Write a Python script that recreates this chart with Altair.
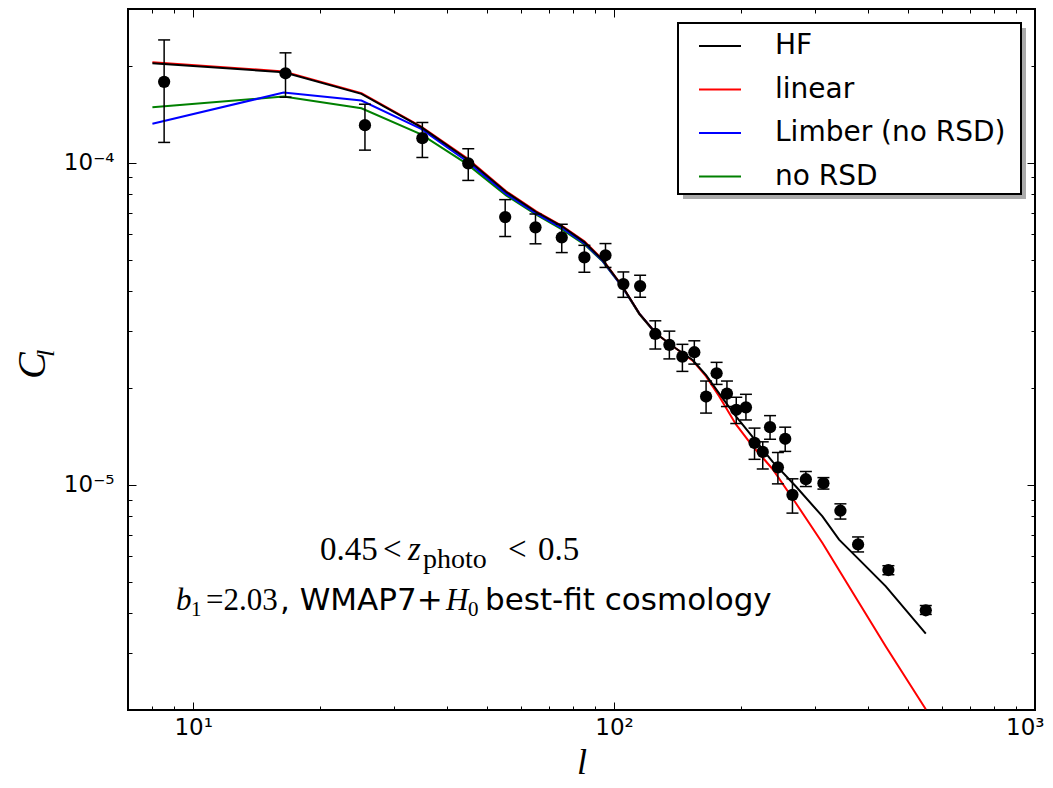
import altair as alt
import pandas as pd

# ---------------- data ----------------
l_obs = [8.53, 16.57, 25.59, 35.03, 45.03, 55.11, 65.05, 75.1, 85.0, 95.4,
         105.2, 115.3, 125.3, 135.3, 145.3, 155.1, 165.4, 175.2, 185.4, 195.1,
         205.7, 215.6, 225.5, 234.7, 245.0, 255.0, 265.3, 285.5, 314.3, 344.9,
         379.9, 448.4, 550.2]
cl_obs = [1.782e-4, 1.895e-4, 1.308e-4, 1.192e-4, 9.95e-5, 6.78e-5, 6.30e-5, 5.86e-5, 5.08e-5, 5.16e-5,
          4.20e-5, 4.14e-5, 2.94e-5, 2.72e-5, 2.50e-5, 2.58e-5, 1.88e-5, 2.22e-5, 1.92e-5, 1.71e-5,
          1.74e-5, 1.35e-5, 1.265e-5, 1.51e-5, 1.133e-5, 1.39e-5, 9.31e-6, 1.041e-5, 1.012e-5, 8.31e-6,
          6.53e-6, 5.44e-6, 4.08e-6]
cl_lo = [1.156e-4, 1.597e-4, 1.094e-4, 1.038e-4, 8.81e-5, 5.90e-5, 5.60e-5, 5.26e-5, 4.57e-5, 4.73e-5,
         3.82e-5, 3.82e-5, 2.64e-5, 2.46e-5, 2.25e-5, 2.37e-5, 1.67e-5, 2.05e-5, 1.75e-5, 1.55e-5,
         1.59e-5, 1.20e-5, 1.12e-5, 1.385e-5, 1.007e-5, 1.27e-5, 8.17e-6, 9.88e-6, 9.70e-6, 7.83e-6,
         6.19e-6, 5.26e-6, 3.96e-6]
cl_hi = [2.405e-4, 2.193e-4, 1.519e-4, 1.333e-4, 1.105e-4, 7.68e-5, 6.93e-5, 6.44e-5, 5.54e-5, 5.61e-5,
         4.58e-5, 4.47e-5, 3.23e-5, 3.00e-5, 2.73e-5, 2.80e-5, 2.10e-5, 2.40e-5, 2.10e-5, 1.87e-5,
         1.91e-5, 1.50e-5, 1.36e-5, 1.64e-5, 1.26e-5, 1.51e-5, 1.044e-5, 1.10e-5, 1.053e-5, 8.73e-6,
         6.89e-6, 5.61e-6, 4.22e-6]

l_model = [8.0, 16.4, 25.1, 34.8, 44.6, 55.4, 65.3, 75.0, 85.0, 94.0, 104.8, 114.8, 125.8,
           140.3, 153.7, 165.4, 177.8, 194.8, 213.3, 237.9, 270.4, 312.6, 342.4, 382.1, 442.1, 550.2]
cl_hf = [2.035e-4, 1.909e-4, 1.636e-4, 1.289e-4, 1.029e-4, 8.11e-5, 7.03e-5, 6.36e-5, 5.67e-5,
         4.98e-5, 4.12e-5, 3.40e-5, 2.95e-5, 2.65e-5, 2.44e-5, 2.19e-5, 1.92e-5, 1.63e-5, 1.41e-5,
         1.18e-5, 9.88e-6, 7.98e-6, 6.76e-6, 5.86e-6, 4.84e-6, 3.45e-6]
cl_linear = [2.05e-4, 1.92e-4, 1.645e-4, 1.295e-4, 1.035e-4, 8.15e-5, 7.06e-5, 6.38e-5, 5.70e-5,
             5.00e-5, 4.12e-5, 3.40e-5, 2.95e-5, 2.65e-5, 2.43e-5, 2.17e-5, 1.88e-5, 1.54e-5, 1.32e-5,
             1.12e-5, 8.77e-6, 6.60e-6, 5.43e-6, 4.30e-6, 3.15e-6, 2.01e-6]
cl_limber = [1.321e-4, 1.651e-4, 1.56e-4, 1.274e-4, 1.012e-4, 8.0e-5, 6.95e-5, 6.28e-5, 5.62e-5,
             4.95e-5, 4.10e-5, 3.40e-5, 2.95e-5]
cl_norsd = [1.487e-4, 1.604e-4, 1.476e-4, 1.224e-4, 9.93e-5, 7.92e-5, 6.90e-5, 6.22e-5, 5.58e-5,
            4.93e-5, 4.10e-5, 3.39e-5, 2.94e-5]

series_names = ["HF", "linear", "Limber (no RSD)", "no RSD"]
series_colors = ["#000000", "#ff0000", "#0000ff", "#008000"]

x_major = [10, 100, 1000]
x_minor = [8, 9, 20, 30, 40, 50, 60, 70, 80, 90, 200, 300, 400, 500, 600, 700, 800, 900]
y_major = [1e-5, 1e-4]
y_minor = [2e-6, 3e-6, 4e-6, 5e-6, 6e-6, 7e-6, 8e-6, 9e-6,
           2e-5, 3e-5, 4e-5, 5e-5, 6e-5, 7e-5, 8e-5, 9e-5, 2e-4, 3e-4]

x_title = "l"
y_title = ["C", "l"]
line1 = ["0.45", "<", "z", "photo", "<", "0.5"]
line2 = ["b", "1", "=2.03", ", WMAP7+", "H", "0", "best-fit cosmology"]

# ---------------- tables ----------------
obs = pd.DataFrame({"l": l_obs, "C": cl_obs, "lo": cl_lo, "hi": cl_hi})
rows = []
for name, vals in [("no RSD", cl_norsd), ("Limber (no RSD)", cl_limber),
                   ("linear", cl_linear), ("HF", cl_hf)]:
    for lv, cv in zip(l_model, vals):
        rows.append({"l": lv, "C": cv, "series": name})
model = pd.DataFrame(rows)

W, H = 907, 701
xs = alt.Scale(type="log", domain=[7, 1000], nice=False)
ys = alt.Scale(type="log", domain=[2e-6, 3e-4], nice=False)


def tick_axis(orient, values, size):
    off = -H if orient in ("top", "bottom") else -W
    return alt.Axis(orient=orient, offset=off, values=values, tickSize=size,
                    tickColor="black", tickWidth=1, labels=False, domain=False,
                    grid=False, title=None)


x_lab_axis = alt.Axis(orient="bottom", values=x_major, ticks=False, domain=False, grid=False,
                      labelExpr="datum.value < 50 ? '10¹' : datum.value < 500 ? '10²' : '10³'",
                      labelFont="DejaVu Sans", labelFontSize=23, labelColor="black",
                      labelPadding=6, labelFlush=True, labelFlushOffset=9,
                      title=x_title, titleFont="Liberation Serif", titleFontStyle="italic",
                      titleFontWeight="normal", titleFontSize=36, titleColor="black",
                      titlePadding=6)
y_lab_axis = alt.Axis(orient="left", values=y_major, ticks=False, domain=False, grid=False,
                      labelExpr="datum.value > 5e-5 ? '10⁻⁴' : '10⁻⁵'",
                      labelFont="DejaVu Sans", labelFontSize=23, labelColor="black",
                      labelPadding=14, labelFlush=False, title=None)

legend = alt.Legend(orient="none", legendX=570, legendY=15, title=None,
                    labelFont="DejaVu Sans", labelFontSize=28, labelColor="black",
                    labelLimit=400,
                    symbolType="stroke", symbolSize=1764, symbolStrokeWidth=2,
                    labelOffset=33, padding=0, rowPadding=7.5, zindex=1)

lines = alt.Chart(model).mark_line(strokeWidth=2, clip=True).encode(
    x=alt.X("l:Q", scale=xs, axis=x_lab_axis),
    y=alt.Y("C:Q", scale=ys, axis=y_lab_axis),
    color=alt.Color("series:N", scale=alt.Scale(domain=series_names, range=series_colors),
                    legend=legend),
)

bars = alt.Chart(obs).mark_rule(strokeWidth=1.5, color="black").encode(
    x=alt.X("l:Q", scale=xs, axis=tick_axis("top", x_major, 8)),
    y=alt.Y("lo:Q", scale=ys, axis=tick_axis("right", y_major, 8)),
    y2="hi:Q",
)
caps_hi = alt.Chart(obs).mark_tick(orient="horizontal", size=12, thickness=1.5, color="black",
                                   opacity=1).encode(
    x=alt.X("l:Q", scale=xs, axis=tick_axis("top", x_minor, 4)),
    y=alt.Y("hi:Q", scale=ys, axis=tick_axis("right", y_minor, 4)),
)
caps_lo = alt.Chart(obs).mark_tick(orient="horizontal", size=12, thickness=1.5, color="black",
                                   opacity=1).encode(
    x=alt.X("l:Q", scale=xs, axis=tick_axis("bottom", x_major, 8)),
    y=alt.Y("lo:Q", scale=ys, axis=tick_axis("left", y_major, 8)),
)
pts = alt.Chart(obs).mark_point(filled=True, shape="circle", size=150, color="black",
                                opacity=1).encode(
    x=alt.X("l:Q", scale=xs, axis=tick_axis("bottom", x_minor, 4)),
    y=alt.Y("C:Q", scale=ys, axis=tick_axis("left", y_minor, 4)),
)


def txt(s, x, y, font, size, style="normal", angle=0, align="left"):
    return alt.Chart(pd.DataFrame({"t": [s]})).mark_text(
        align=align, baseline="alphabetic", font=font, fontSize=size, fontStyle=style,
        angle=angle, color="black").encode(x=alt.value(x), y=alt.value(y), text="t:N")


one = alt.Chart(pd.DataFrame({"k": [0]}))
shadow = one.mark_rect(fill="#aaaaaa").encode(
    x=alt.value(555), x2=alt.value(898), y=alt.value(19), y2=alt.value(190))
frame = one.mark_rect(fill="white", stroke="black", strokeWidth=2).encode(
    x=alt.value(550), x2=alt.value(893), y=alt.value(14), y2=alt.value(185))

SER = "Liberation Serif"
SANS = "DejaVu Sans"
texts = [
    txt(line1[0], 192, 551, SER, 33),
    txt(line1[1], 255, 551, SER, 33),
    txt(line1[2], 280, 551, SER, 33, "italic"),
    txt(line1[3], 295, 559, SER, 28),
    txt(line1[4], 380, 551, SER, 33),
    txt(line1[5], 410, 551, SER, 33),
    txt(line2[0], 48, 601, SER, 31, "italic"),
    txt(line2[1], 63, 607, SER, 21),
    txt(line2[2], 78, 601, SER, 31),
    txt(line2[3], 152, 601, SANS, 31),
    txt(line2[4], 318, 601, SER, 31, "italic"),
    txt(line2[5], 340, 607, SER, 21),
    txt(line2[6], 357, 601, SANS, 31),
    txt(y_title[0], -83, 370, SER, 40, "italic", 270),
    txt(y_title[1], -74, 348, SER, 26, "italic", 270),
]

chart = alt.layer(shadow, frame, lines, bars, caps_hi, caps_lo, pts, *texts).resolve_axis(
    x="independent", y="independent"
).properties(
    width=W, height=H,
    autosize=alt.AutoSizeParams(type="none"),
    padding={"left": 120, "top": 1, "right": 10, "bottom": 70},
).configure(
    background="white",
    view=alt.ViewConfig(stroke="black", strokeWidth=2),
)

chart.save("out.html", embed_options={"renderer": "svg", "actions": False})
